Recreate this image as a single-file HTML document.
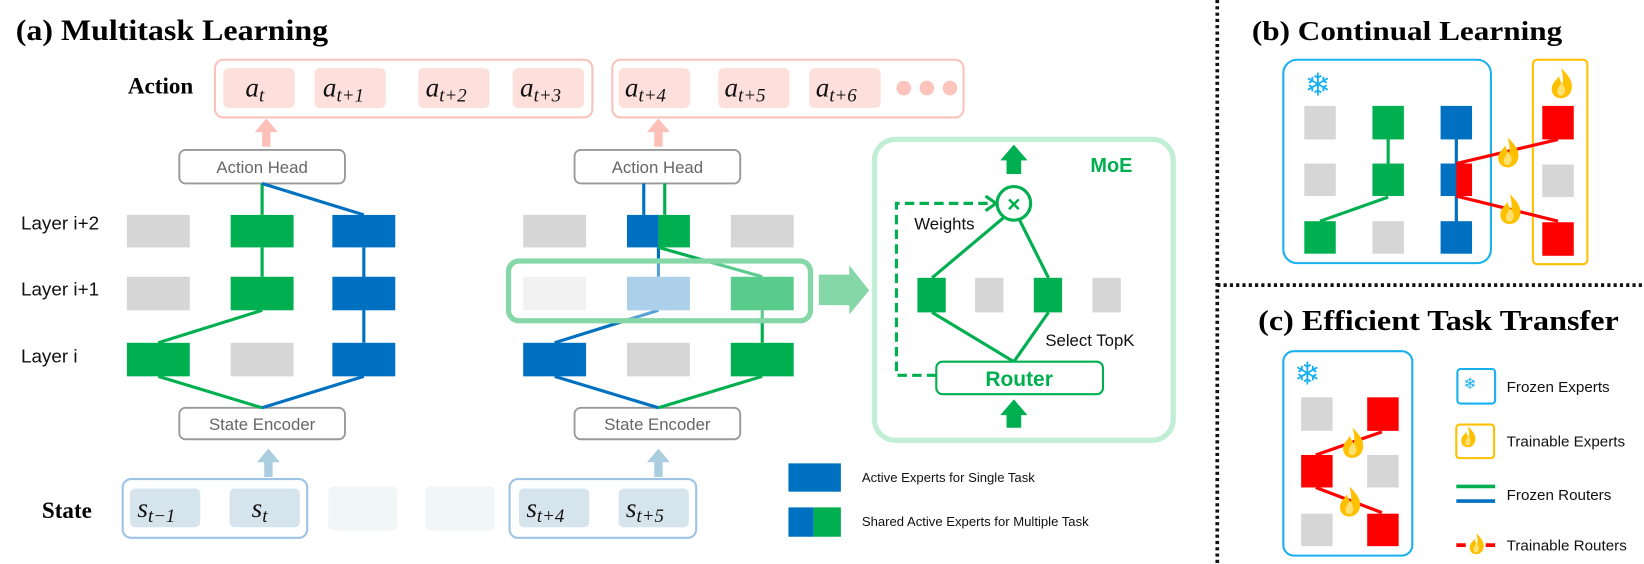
<!DOCTYPE html>
<html><head><meta charset="utf-8"><style>
html,body{margin:0;padding:0;background:#fff}
svg{display:block}
.ser{font-family:"Liberation Serif",serif;font-weight:bold}
.sans{font-family:"Liberation Sans",sans-serif}
.m{font-family:"Liberation Serif",serif;font-style:italic}
</style></head><body>
<svg width="1644" height="564" viewBox="0 0 1568 538" preserveAspectRatio="none" xmlns="http://www.w3.org/2000/svg">
<defs>
<g id="flame0"><path d="M0,-12 C6,-6 9,-2 8,4 C7,9 3,11 0,11 C-5,11 -8,7 -7,2 C-6,-2 -3,-3 -2,-6 C-1,-3 0,-1 1,0 C2,-4 1,-8 0,-12Z" fill="#ffc000"/><path d="M0,-1 C3,2 4,5 2,8 C0,10 -3,9 -3,6 C-3,3 -1,2 0,-1Z" fill="#ffe070"/></g>
<g id="flame"><g transform="scale(1.25)"><use href="#flame0"/></g></g>
</defs>
<rect width="1568" height="538" fill="#fff"/>

<!-- (a) title -->
<text x="15" y="38" class="ser" font-size="28" textLength="298" lengthAdjust="spacingAndGlyphs">(a) Multitask Learning</text>
<text x="122" y="89" class="ser" font-size="22">Action</text>
<text x="40" y="494" class="ser" font-size="22">State</text>

<!-- action boxes -->
<rect x="205" y="57" width="360" height="55" rx="8" fill="none" stroke="#f9c3bc" stroke-width="2"/>
<rect x="584" y="57" width="335" height="55" rx="8" fill="none" stroke="#f9c3bc" stroke-width="2"/>
<g fill="#fde0dc">
<rect x="213" y="65" width="68" height="38" rx="5"/><rect x="300" y="65" width="68" height="38" rx="5"/>
<rect x="399" y="65" width="68" height="38" rx="5"/><rect x="489" y="65" width="68" height="38" rx="5"/>
<rect x="590" y="65" width="68" height="38" rx="5"/><rect x="685" y="65" width="68" height="38" rx="5"/>
<rect x="772" y="65" width="68" height="38" rx="5"/>
</g>
<g fill="#fcc4bd"><circle cx="862" cy="84" r="7"/><circle cx="884" cy="84" r="7"/><circle cx="906" cy="84" r="7"/></g>
<g class="m" font-size="26" fill="#111">
<text x="234" y="92">a<tspan font-size="18" dy="5">t</tspan></text>
<text x="308" y="92">a<tspan font-size="18" dy="5">t+1</tspan></text>
<text x="406" y="92">a<tspan font-size="18" dy="5">t+2</tspan></text>
<text x="496" y="92">a<tspan font-size="18" dy="5">t+3</tspan></text>
<text x="596" y="92">a<tspan font-size="18" dy="5">t+4</tspan></text>
<text x="691" y="92">a<tspan font-size="18" dy="5">t+5</tspan></text>
<text x="778" y="92">a<tspan font-size="18" dy="5">t+6</tspan></text>
</g>

<!-- pink arrows -->
<g fill="#fcc0b8">
<polygon points="243,126 250,126 250,140 258,140 258,126 265,126 254,113"/>
<polygon points="617,126 624,126 624,140 632,140 632,126 639,126 628,113"/>
</g>

<!-- layer labels -->
<g class="sans" font-size="18" fill="#111">
<text x="20" y="219">Layer i+2</text><text x="20" y="282">Layer i+1</text><text x="20" y="346">Layer i</text>
</g>

<!-- heads/encoders -->
<g fill="#fff" stroke="#999" stroke-width="1.8">
<rect x="171" y="143" width="158" height="32" rx="6"/><rect x="548" y="143" width="158" height="32" rx="6"/>
<rect x="171" y="389" width="158" height="30" rx="6"/><rect x="548" y="389" width="158" height="30" rx="6"/>
</g>
<g class="sans" font-size="16" fill="#666" text-anchor="middle">
<text x="250" y="165">Action Head</text><text x="627" y="165">Action Head</text>
<text x="250" y="410">State Encoder</text><text x="627" y="410">State Encoder</text>
</g>

<!-- left column lines -->
<g stroke-width="3" fill="none">
<line x1="250" y1="175" x2="250" y2="205" stroke="#00b050"/>
<line x1="250" y1="175" x2="347" y2="205" stroke="#0070c0"/>
<line x1="250" y1="236" x2="250" y2="264" stroke="#00b050"/>
<line x1="347" y1="236" x2="347" y2="327" stroke="#0070c0"/>
<line x1="250" y1="296" x2="151" y2="327" stroke="#00b050"/>
<line x1="151" y1="359" x2="250" y2="389" stroke="#00b050"/>
<line x1="347" y1="359" x2="250" y2="389" stroke="#0070c0"/>
</g>
<g>
<rect x="121" y="205" width="60" height="31" fill="#d6d6d6"/><rect x="220" y="205" width="60" height="31" fill="#00b050"/><rect x="317" y="205" width="60" height="31" fill="#0070c0"/>
<rect x="121" y="264" width="60" height="32" fill="#d6d6d6"/><rect x="220" y="264" width="60" height="32" fill="#00b050"/><rect x="317" y="264" width="60" height="32" fill="#0070c0"/>
<rect x="121" y="327" width="60" height="32" fill="#00b050"/><rect x="220" y="327" width="60" height="32" fill="#d6d6d6"/><rect x="317" y="327" width="60" height="32" fill="#0070c0"/>
</g>

<!-- middle column -->
<g stroke-width="3" fill="none">
<line x1="614" y1="175" x2="614" y2="205" stroke="#0070c0"/>
<line x1="634" y1="175" x2="634" y2="205" stroke="#00b050"/>
<line x1="628" y1="236" x2="628" y2="264" stroke="#0070c0"/>
<line x1="628" y1="236" x2="727" y2="264" stroke="#00b050"/>
<line x1="628" y1="296" x2="529" y2="327" stroke="#0070c0"/>
<line x1="727" y1="296" x2="727" y2="327" stroke="#00b050"/>
<line x1="529" y1="359" x2="628" y2="389" stroke="#0070c0"/>
<line x1="727" y1="359" x2="628" y2="389" stroke="#00b050"/>
</g>
<rect x="499" y="205" width="60" height="31" fill="#d6d6d6"/>
<rect x="598" y="205" width="30" height="31" fill="#0070c0"/><rect x="628" y="205" width="30" height="31" fill="#00b050"/>
<rect x="697" y="205" width="60" height="31" fill="#d6d6d6"/>
<rect x="499" y="327" width="60" height="32" fill="#0070c0"/><rect x="598" y="327" width="60" height="32" fill="#d6d6d6"/><rect x="697" y="327" width="60" height="32" fill="#00b050"/>
<rect x="499" y="264" width="60" height="32" fill="#ebebeb"/><rect x="598" y="264" width="60" height="32" fill="#80b6df"/><rect x="697" y="264" width="60" height="32" fill="#00b050"/>
<rect x="485" y="249" width="288" height="57" rx="10" fill="#fff" fill-opacity="0.35" stroke="#86d7a8" stroke-width="5"/>

<!-- big arrow -->
<polygon points="781,262 810,262 810,253 829,277 810,300 810,291 781,291" fill="#86d7a8"/>

<!-- MoE -->
<rect x="834" y="133" width="285" height="287" rx="20" fill="none" stroke="#c3eed6" stroke-width="5"/>
<text x="1040" y="164" class="sans" font-weight="bold" font-size="19" fill="#00b050">MoE</text>
<polygon points="960,166 974,166 974,153 980,153 967,138 954,153 960,153" fill="#00b050"/>
<polygon points="960,408 974,408 974,396 980,396 967,381 954,396 960,396" fill="#00b050"/>
<circle cx="967" cy="194" r="16" fill="#fff" stroke="#00b050" stroke-width="3"/>
<text x="967" y="202" text-anchor="middle" class="sans" font-weight="bold" font-size="22" fill="#00b050">×</text>
<g stroke="#00b050" stroke-width="3" fill="none">
<path d="M893,358 H855 V194 H946" stroke-dasharray="9,5"/>
<path d="M940,187 L950,194 L940,201"/>
<line x1="958" y1="207" x2="889" y2="265"/><line x1="972" y1="209" x2="1000" y2="265"/>
<line x1="889" y1="298" x2="967" y2="345"/><line x1="1000" y1="298" x2="967" y2="345"/>
</g>
<text x="872" y="219" class="sans" font-size="16" fill="#111">Weights</text>
<text x="997" y="330" class="sans" font-size="16" fill="#111">Select TopK</text>
<rect x="875" y="265" width="27" height="33" fill="#00b050"/><rect x="930" y="265" width="27" height="33" fill="#d6d6d6"/>
<rect x="986" y="265" width="27" height="33" fill="#00b050"/><rect x="1042" y="265" width="27" height="33" fill="#d6d6d6"/>
<rect x="893" y="345" width="159" height="31" rx="6" fill="#fff" stroke="#00b050" stroke-width="2"/>
<text x="972" y="368" text-anchor="middle" class="sans" font-weight="bold" font-size="20" fill="#00b050">Router</text>

<!-- state -->
<polygon points="245,441 252,441 252,455 260,455 260,441 267,441 256,428" fill="#abcde0"/>
<polygon points="617,441 624,441 624,455 632,455 632,441 639,441 628,428" fill="#abcde0"/>
<rect x="117" y="457" width="176" height="56" rx="8" fill="none" stroke="#9dc3e6" stroke-width="2"/>
<rect x="486" y="457" width="178" height="56" rx="8" fill="none" stroke="#9dc3e6" stroke-width="2"/>
<g fill="#d6e4ee">
<rect x="124" y="466" width="67" height="37" rx="5"/><rect x="219" y="466" width="67" height="37" rx="5"/>
<rect x="495" y="466" width="67" height="37" rx="5"/><rect x="590" y="466" width="67" height="37" rx="5"/>
</g>
<g fill="#f1f6f9"><rect x="313" y="464" width="66" height="42" rx="5"/><rect x="406" y="464" width="66" height="42" rx="5"/></g>
<g class="m" font-size="26" fill="#111">
<text x="131" y="493">s<tspan font-size="18" dy="5">t−1</tspan></text>
<text x="240" y="493">s<tspan font-size="18" dy="5">t</tspan></text>
<text x="502" y="493">s<tspan font-size="18" dy="5">t+4</tspan></text>
<text x="597" y="493">s<tspan font-size="18" dy="5">t+5</tspan></text>
</g>

<!-- legend a -->
<rect x="752" y="442" width="50" height="27" fill="#0070c0"/>
<rect x="752" y="484" width="24" height="28" fill="#0070c0"/><rect x="776" y="484" width="26" height="28" fill="#00b050"/>
<g class="sans" font-size="12.5" fill="#111">
<text x="822" y="460">Active Experts for Single Task</text>
<text x="822" y="502">Shared Active Experts for Multiple Task</text>
</g>

<!-- dividers -->
<line x1="1161" y1="0" x2="1161" y2="538" stroke="#111" stroke-width="3.5" stroke-dasharray="3,3"/>
<line x1="1161" y1="272" x2="1568" y2="272" stroke="#111" stroke-width="3.5" stroke-dasharray="3,3"/>

<!-- (b) -->
<text x="1194" y="38" class="ser" font-size="26" textLength="296" lengthAdjust="spacingAndGlyphs">(b) Continual Learning</text>
<rect x="1224" y="57" width="198" height="194" rx="13" fill="none" stroke="#1ab0ef" stroke-width="2"/>
<rect x="1462" y="57" width="52" height="195" rx="4" fill="none" stroke="#ffc000" stroke-width="2"/>
<text x="1257" y="91" text-anchor="middle" font-family="DejaVu Sans" font-size="30" fill="#1ab0ef">❄</text>
<use href="#flame" x="1489" y="80"/>
<g stroke-width="3">
<line x1="1324" y1="120" x2="1324" y2="170" stroke="#00b050"/>
<line x1="1324" y1="188" x2="1259" y2="211" stroke="#00b050"/>
<line x1="1389" y1="115" x2="1389" y2="230" stroke="#0070c0"/>
</g>
<rect x="1244" y="101" width="30" height="32" fill="#d6d6d6"/><rect x="1309" y="101" width="30" height="32" fill="#00b050"/><rect x="1374" y="101" width="30" height="32" fill="#0070c0"/>
<rect x="1244" y="156" width="30" height="31" fill="#d6d6d6"/><rect x="1309" y="156" width="30" height="31" fill="#00b050"/><rect x="1374" y="156" width="15" height="31" fill="#0070c0"/><rect x="1389" y="156" width="15" height="31" fill="#ff0000"/>
<rect x="1244" y="211" width="30" height="31" fill="#00b050"/><rect x="1309" y="211" width="30" height="31" fill="#d6d6d6"/><rect x="1374" y="211" width="30" height="31" fill="#0070c0"/>
<g stroke="#ff0000" stroke-width="3">
<line x1="1389" y1="156" x2="1486" y2="133"/><line x1="1389" y1="187" x2="1486" y2="211"/>
</g>
<rect x="1471" y="101" width="30" height="32" fill="#ff0000"/><rect x="1471" y="157" width="30" height="31" fill="#d6d6d6"/><rect x="1471" y="212" width="30" height="32" fill="#ff0000"/>
<use href="#flame" x="1438" y="146"/><use href="#flame" x="1440" y="200"/>

<!-- (c) -->
<text x="1200" y="315" class="ser" font-size="27" textLength="344" lengthAdjust="spacingAndGlyphs">(c) Efficient Task Transfer</text>
<rect x="1224" y="335" width="123" height="195" rx="10" fill="none" stroke="#1ab0ef" stroke-width="2"/>
<text x="1247" y="367" text-anchor="middle" font-family="DejaVu Sans" font-size="30" fill="#1ab0ef">❄</text>
<g stroke="#ff0000" stroke-width="3">
<line x1="1255" y1="434" x2="1318" y2="412"/><line x1="1255" y1="465" x2="1318" y2="489"/>
</g>
<rect x="1241" y="379" width="30" height="32" fill="#d6d6d6"/><rect x="1304" y="379" width="30" height="32" fill="#ff0000"/>
<rect x="1241" y="434" width="30" height="31" fill="#ff0000"/><rect x="1304" y="434" width="30" height="31" fill="#d6d6d6"/>
<rect x="1241" y="490" width="30" height="31" fill="#d6d6d6"/><rect x="1304" y="490" width="30" height="31" fill="#ff0000"/>
<use href="#flame" x="1290" y="423"/><use href="#flame" x="1287" y="479"/>

<rect x="1390" y="352" width="36" height="33" rx="3" fill="none" stroke="#1ab0ef" stroke-width="2"/>
<text x="1402" y="371" text-anchor="middle" font-family="DejaVu Sans" font-size="15" fill="#1ab0ef">❄</text>
<rect x="1389" y="405" width="36" height="32" rx="3" fill="none" stroke="#ffc000" stroke-width="2"/>
<g transform="translate(1400,417) scale(0.7)"><use href="#flame"/></g>
<line x1="1389" y1="464" x2="1426" y2="464" stroke="#00b050" stroke-width="3.5"/>
<line x1="1389" y1="478" x2="1426" y2="478" stroke="#0070c0" stroke-width="3.5"/>
<line x1="1389" y1="520" x2="1426" y2="520" stroke="#ff0000" stroke-width="3.5" stroke-dasharray="9,19"/>
<g transform="translate(1408,519) scale(0.7)"><use href="#flame"/></g>
<g class="sans" font-size="14.5" fill="#111">
<text x="1437" y="374">Frozen Experts</text>
<text x="1437" y="426">Trainable Experts</text>
<text x="1437" y="477">Frozen Routers</text>
<text x="1437" y="525">Trainable Routers</text>
</g>
</svg>
</body></html>
